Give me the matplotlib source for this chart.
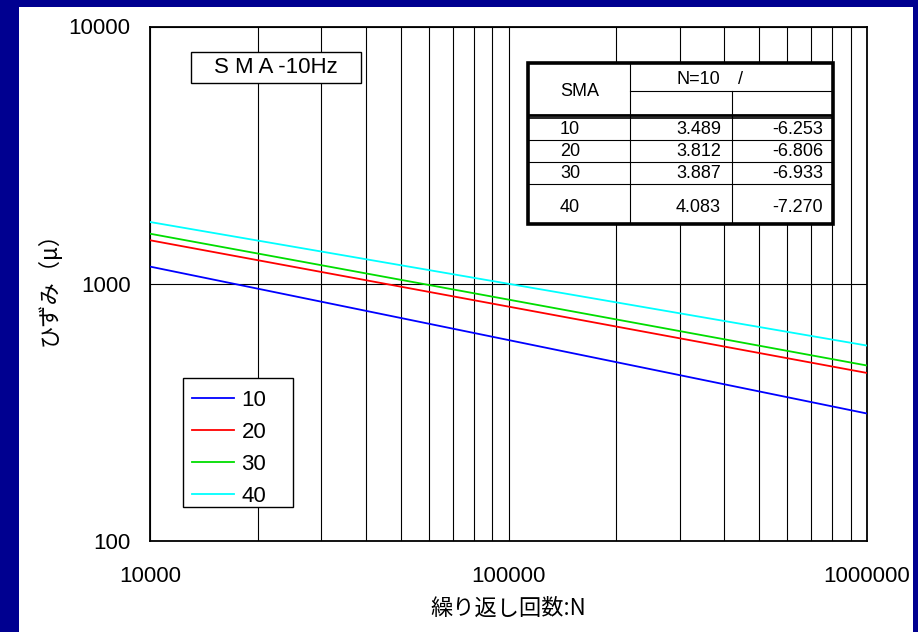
import matplotlib
matplotlib.use("Agg")
import matplotlib.pyplot as plt
from matplotlib.patches import Rectangle
from matplotlib.lines import Line2D
from matplotlib.ticker import FixedLocator, NullFormatter, NullLocator

# ---- data ----
cycles = [1e4, 1e6]
series_names = ["10", "20", "30", "40"]
strain_10 = [1166, 313]
strain_20 = [1476, 450]
strain_30 = [1565, 481]
strain_40 = [1738, 575]
colors = ["#0000FF", "#FF0000", "#00DD00", "#00FFFF"]

x_ticks = [1e4, 1e5, 1e6]
x_ticklabels = ["10000", "100000", "1000000"]
y_ticks = [100, 1000, 10000]
y_ticklabels = ["100", "1000", "10000"]

table_sma = ["10", "20", "30", "40"]
table_a = ["3.489", "3.812", "3.887", "4.083"]
table_b = ["-6.253", "-6.806", "-6.933", "-7.270"]

title_text = "S M A -10Hz"
xlabel = "繰り返し回数:N"
ylabel = "ひずみ（μ）"

W, H = 918, 632
fig = plt.figure(figsize=(W / 100, H / 100), dpi=100)
fig.patch.set_facecolor("#000090")
fig.add_artist(Rectangle((19 / W, 0), (913 - 19) / W, 1 - 7 / H,
                         transform=fig.transFigure, facecolor="white",
                         edgecolor="none", zorder=0))

def px_rect(x0, y0, x1, y1):
    return [x0 / W, 1 - y1 / H, (x1 - x0) / W, (y1 - y0) / H]

ax = fig.add_axes(px_rect(150, 26.5, 867, 541))
ax.set_xscale("log")
ax.set_yscale("log")
ax.set_xlim(1e4, 1e6)
ax.set_ylim(100, 10000)

num_font = ["Liberation Sans", "DejaVu Sans"]
cjk_font = ["Noto Sans CJK JP", "DejaVu Sans"]

ax.xaxis.set_major_locator(FixedLocator(x_ticks))
ax.xaxis.set_minor_locator(FixedLocator([m * 10 ** e for e in (4, 5) for m in range(2, 10)]))
ax.yaxis.set_major_locator(FixedLocator(y_ticks))
ax.yaxis.set_minor_locator(NullLocator())
ax.xaxis.set_minor_formatter(NullFormatter())
ax.set_xticklabels(x_ticklabels, fontfamily=num_font, fontsize=16)
ax.set_yticklabels(y_ticklabels, fontfamily=num_font, fontsize=16)
ax.tick_params(axis="both", which="both", length=0)
ax.tick_params(axis="x", pad=18)
ax.tick_params(axis="y", pad=14)

ax.grid(True, axis="x", which="both", color="black", lw=0.8)
ax.grid(True, axis="y", which="major", color="black", lw=0.8)
ax.set_axisbelow(True)
for s in ax.spines.values():
    s.set_color("black")
    s.set_linewidth(1.3)

all_series = [strain_10, strain_20, strain_30, strain_40]
handles = []
for name, vals, c in zip(series_names, all_series, colors):
    h, = ax.plot(cycles, vals, color=c, lw=1.3, label=name, zorder=3)
    handles.append(h)

ax.set_xlabel(xlabel, fontfamily=cjk_font, fontsize=16, labelpad=7)
ax.set_ylabel(ylabel, fontfamily=cjk_font, fontsize=16, labelpad=6)

# legend frame (manual, inside the axes so it sits under the legend) + legend content
ax.add_patch(Rectangle((182.7 / W, 1 - 507 / H), (293 - 182.7) / W, (507 - 378) / H,
                       transform=fig.transFigure, facecolor="white",
                       edgecolor="black", lw=1.0, zorder=4, clip_on=False))
leg = ax.legend(handles=handles, loc="upper left",
                bbox_to_anchor=((182.7 - 150) / 717, (541 - 381) / 514.5),
                prop={"family": ["Liberation Sans", "DejaVu Sans"], "size": 16},
                frameon=False,
                handlelength=1.9, handletextpad=0.35, labelspacing=0.5,
                borderpad=0.4, borderaxespad=0)
leg.set_zorder(5)

# title box
fig.add_artist(Rectangle((191 / W, 1 - 82.5 / H), (361 - 191) / W, 30.5 / H,
                         transform=fig.transFigure, facecolor="white",
                         edgecolor="black", lw=1.0, zorder=6))
fig.text(276 / W, 1 - 67.5 / H, title_text, ha="center", va="center",
         fontfamily=num_font, fontsize=16, zorder=7)

# table drawn in its own pixel-unit axes
tx0, ty0, tx1, ty1 = 528, 63, 833, 224
tax = fig.add_axes(px_rect(tx0, ty0, tx1, ty1))
tax.set_xlim(tx0, tx1)
tax.set_ylim(ty1, ty0)
tax.axis("off")
tax.add_patch(Rectangle((tx0, ty0), tx1 - tx0, ty1 - ty0, facecolor="white",
                        edgecolor="none", zorder=0))
def hline(y, x0, x1, lw):
    tax.add_line(Line2D([x0, x1], [y, y], color="black", lw=lw))
def vline(x, y0, y1, lw):
    tax.add_line(Line2D([x, x], [y0, y1], color="black", lw=lw))
c1, c2 = 630, 732
hline(91, c1, tx1, 0.8)
hline(115, tx0, tx1, 2.0)
hline(118.5, tx0, tx1, 1.2)
for y in (140, 162, 184):
    hline(y, tx0, tx1, 0.8)
vline(c1, ty0, ty1, 0.8)
vline(c2, 91, ty1, 0.8)
tax.add_patch(Rectangle((tx0, ty0), tx1 - tx0, ty1 - ty0, facecolor="none",
                        edgecolor="black", lw=2.6, zorder=4, clip_on=False))
tfont = ["Liberation Sans", "DejaVu Sans"]
tax.text(580, 92, "SMA", ha="center", va="center", fontfamily=tfont, fontsize=13)
tax.text(677, 80, "N=10", ha="left", va="center", fontfamily=tfont, fontsize=13)
tax.text(740, 80, "/", ha="center", va="center", fontfamily=tfont, fontsize=13)
row_y = [130, 152, 174, 207]
for y, s, a, b in zip(row_y, table_sma, table_a, table_b):
    tax.text(560, y, s, ha="left", va="center", fontfamily=tfont, fontsize=13)
    tax.text(721, y, a, ha="right", va="center", fontfamily=tfont, fontsize=13)
    tax.text(823, y, b, ha="right", va="center", fontfamily=tfont, fontsize=13)

fig.savefig("out.png", dpi=100, facecolor=fig.get_facecolor())
